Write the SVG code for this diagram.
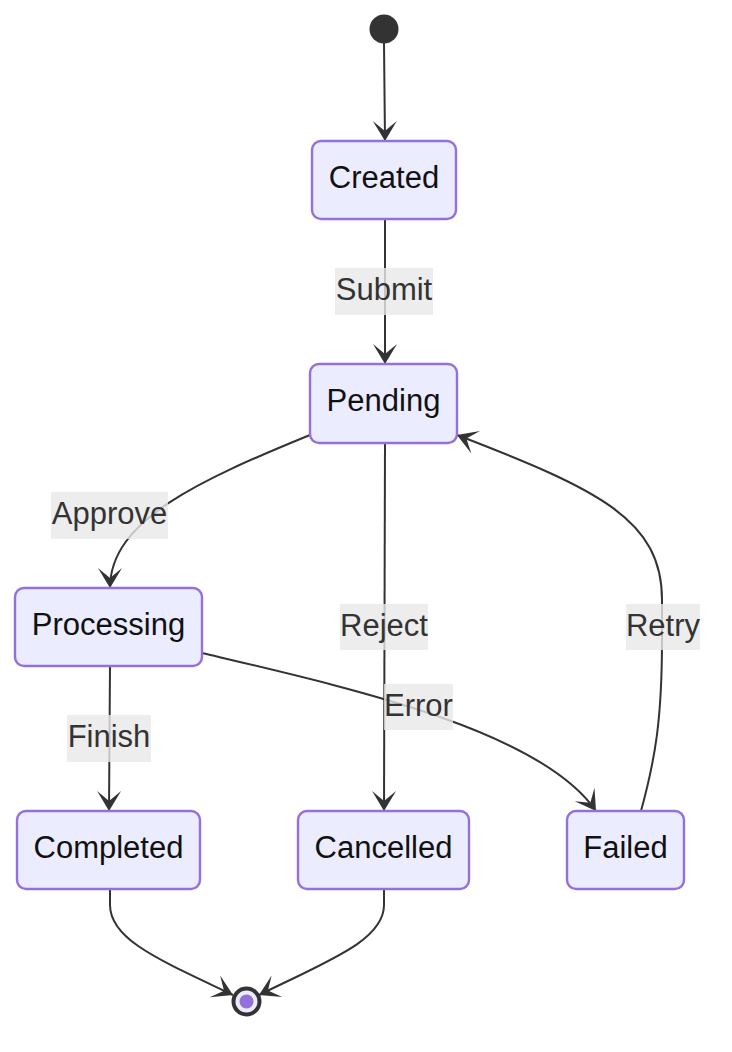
<svg xmlns="http://www.w3.org/2000/svg" width="732" height="1052" viewBox="0 0 732 1052">
<style>
.node rect{fill:#ECECFF;stroke:#9370DB;stroke-width:2.4}
.node text{font-family:"Liberation Sans",Arial,sans-serif;font-size:31px;fill:#111;text-anchor:middle;dominant-baseline:central}
.edge{fill:none;stroke:#333;stroke-width:2}
.lbl rect{fill:rgba(232,232,232,0.8)}
.lbl text{font-family:"Liberation Sans",Arial,sans-serif;font-size:31px;fill:#333;text-anchor:middle;dominant-baseline:central}
</style>
<defs>
<marker id="barb" viewBox="0 0 20 14" markerUnits="userSpaceOnUse" markerWidth="40" markerHeight="28" refX="19" refY="7" orient="auto">
<path d="M19,7 L9,13 L14,7 L9,1 Z" fill="#333"/>
</marker>
</defs>
<g id="edges">
<path class="edge" d="M384,43 L385,141" marker-end="url(#barb)"/>
<path class="edge" d="M385,219 L385,364" marker-end="url(#barb)"/>
<path class="edge" d="M310,435 C200,480 110,520 110,588" marker-end="url(#barb)"/>
<path class="edge" d="M385,443 L384,811" marker-end="url(#barb)"/>
<path class="edge" d="M202,653 C350,688 540,730 596,811" marker-end="url(#barb)"/>
<path class="edge" d="M641,811 C655,760 662,720 662,640 L662,600 C662,520 600,490 457,435" marker-end="url(#barb)"/>
<path class="edge" d="M110,666 L109,811" marker-end="url(#barb)"/>
<path class="edge" d="M110,889 L110,905 C110,940 160,960 233,995" marker-end="url(#barb)"/>
<path class="edge" d="M384,889 L384,905 C384,940 330,960 259,995" marker-end="url(#barb)"/>
</g>
<g id="labels">
<g class="lbl"><rect x="335" y="268" width="98" height="47"/><text x="384" y="289">Submit</text></g>
<g class="lbl"><rect x="51" y="492" width="117" height="47"/><text x="109.5" y="513">Approve</text></g>
<g class="lbl"><rect x="340" y="604" width="88" height="46"/><text x="384" y="625">Reject</text></g>
<g class="lbl"><rect x="626" y="604" width="74" height="46"/><text x="663" y="625">Retry</text></g>
<g class="lbl"><rect x="384" y="684" width="69" height="46"/><text x="418.5" y="705">Error</text></g>
<g class="lbl"><rect x="67" y="715" width="84" height="47"/><text x="109" y="736">Finish</text></g>
</g>
<g id="start"><circle cx="384" cy="29" r="14.5" fill="#333"/></g>
<g id="Created" class="node"><rect x="312" y="141" width="144" height="78" rx="9"/><text x="384" y="177">Created</text></g>
<g id="Pending" class="node"><rect x="310" y="364" width="147" height="79" rx="9"/><text x="383.5" y="400">Pending</text></g>
<g id="Processing" class="node"><rect x="15" y="588" width="187" height="78" rx="9"/><text x="108.5" y="624">Processing</text></g>
<g id="Completed" class="node"><rect x="17" y="811" width="183" height="78" rx="9"/><text x="108.5" y="847">Completed</text></g>
<g id="Cancelled" class="node"><rect x="298" y="811" width="171" height="78" rx="9"/><text x="383.5" y="847">Cancelled</text></g>
<g id="Failed" class="node"><rect x="567" y="811" width="117" height="78" rx="9"/><text x="625.5" y="847">Failed</text></g>
<g id="end"><circle cx="246.5" cy="1001.5" r="13" fill="#ECECFF" stroke="#333" stroke-width="4"/><circle cx="246.5" cy="1001.5" r="7" fill="#9370DB"/></g>
</svg>
